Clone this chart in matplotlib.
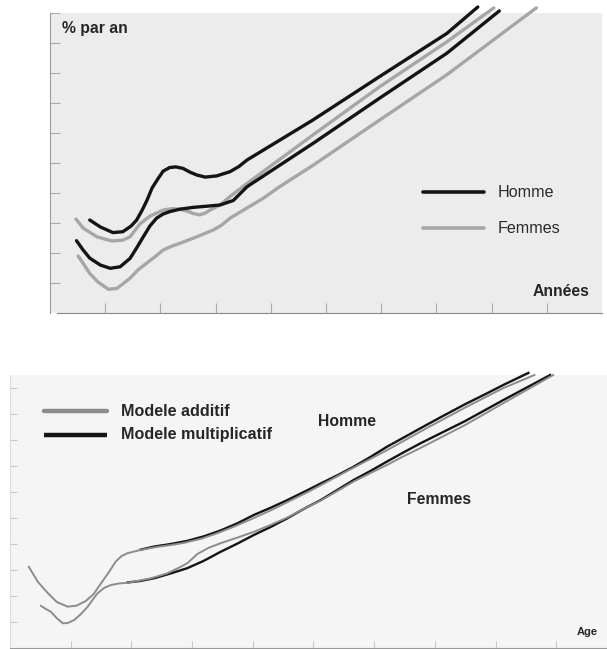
import matplotlib
matplotlib.use("Agg")
import matplotlib.pyplot as plt

plt.rcParams["font.family"] = ["Liberation Sans", "DejaVu Sans"]

W, H = 607, 649

# ---------------- upper panel: mortality growth, % par an ----------------
top_age_ticks = [10, 20, 30, 40, 50, 60, 70, 80, 90]
top_y_ticks = [1, 2, 3, 4, 5, 6, 7, 8, 9, 10]

homme_haut_age = [7.2, 9.1, 11.4, 13.2, 14.7, 15.7, 16.7, 17.6, 18.5, 19.4, 20.5, 21.7,
                  22.8, 24.1, 25.3, 26.6, 28.1, 30.2, 32.6, 34.2, 35.7, 47.6, 59.7, 71.9, 77.5]
homme_haut_val = [3.10, 2.87, 2.68, 2.71, 2.90, 3.10, 3.43, 3.77, 4.17, 4.43, 4.73, 4.85,
                  4.87, 4.82, 4.70, 4.60, 4.53, 4.57, 4.71, 4.88, 5.10, 6.43, 7.88, 9.32, 10.20]

femmes_haut_age = [4.7, 6.0, 8.5, 11.2, 13.2, 14.5, 16.3, 18.1, 20.5, 22.1, 23.5, 24.8,
                   25.9, 27.1, 28.1, 29.0, 30.8, 32.6, 35.7, 47.6, 59.7, 71.9, 80.4]
femmes_haut_val = [3.13, 2.83, 2.54, 2.40, 2.43, 2.54, 2.97, 3.23, 3.43, 3.48, 3.46, 3.40,
                   3.32, 3.27, 3.33, 3.43, 3.60, 3.88, 4.32, 5.93, 7.54, 9.04, 10.17]

homme_bas_age = [4.8, 6.0, 7.2, 9.1, 10.9, 12.7, 14.5, 15.7, 16.9, 18.1, 19.3, 20.5,
                 21.7, 23.5, 25.9, 29.0, 30.8, 33.2, 35.7, 47.7, 59.7, 71.9, 81.4]
homme_bas_val = [2.41, 2.10, 1.83, 1.60, 1.49, 1.54, 1.82, 2.17, 2.54, 2.90, 3.16, 3.30,
                 3.38, 3.46, 3.52, 3.57, 3.60, 3.75, 4.21, 5.66, 7.16, 8.66, 10.07]

femmes_bas_age = [5.1, 6.2, 7.2, 8.7, 10.6, 12.1, 13.2, 14.5, 15.9, 17.5, 19.0, 20.5,
                  22.1, 23.5, 26.6, 29.6, 31.1, 32.6, 35.6, 38.6, 41.6, 47.7, 59.7, 71.8, 88.1]
femmes_bas_val = [1.90, 1.60, 1.32, 1.03, 0.79, 0.82, 0.97, 1.16, 1.43, 1.66, 1.87, 2.10,
                  2.23, 2.32, 2.54, 2.77, 2.93, 3.16, 3.49, 3.82, 4.21, 4.93, 6.43, 7.93, 10.17]

# ---------------- lower panel: additive vs multiplicative model ----------------
low_age_ticks = [10, 20, 30, 40, 50, 60, 70, 80, 90]
low_y_ticks = [1, 2, 3, 4, 5, 6, 7, 8, 9, 10]

homme_add_age = [3.1, 4.6, 6.2, 7.7, 9.5, 11.0, 12.5, 13.8, 15.0, 16.3, 17.4, 18.4, 19.4,
                 21.5, 24.0, 26.5, 28.6, 31.6, 34.2, 36.7, 39.8, 43.1, 49.5, 55.9, 62.2,
                 68.6, 75.0, 81.3, 86.4]
homme_add_val = [3.12, 2.54, 2.12, 1.77, 1.59, 1.63, 1.81, 2.08, 2.49, 2.92, 3.32, 3.54, 3.65,
                 3.77, 3.88, 3.96, 4.04, 4.21, 4.42, 4.65, 4.96, 5.31, 6.05, 6.85, 7.62,
                 8.45, 9.25, 10.00, 10.50]

homme_mult_age = [21.5, 23.7, 26.5, 29.2, 32.0, 34.7, 37.5, 40.2, 43.0, 45.7, 48.5,
                  51.2, 54.0, 56.6, 59.4, 62.1, 64.9, 67.6, 71.3, 75.0, 78.2, 81.3, 85.4]
homme_mult_val = [3.78, 3.90, 4.00, 4.12, 4.30, 4.52, 4.80, 5.12, 5.40, 5.69, 6.01,
                  6.33, 6.65, 6.97, 7.35, 7.74, 8.10, 8.45, 8.92, 9.38, 9.75, 10.12, 10.58]

femmes_add_age = [5.1, 5.9, 6.7, 7.7, 8.7, 9.5, 10.6, 11.7, 12.8, 13.7, 14.4, 15.5, 16.6,
                  17.9, 19.4, 21.5, 23.2, 25.9, 28.1, 29.2, 30.9, 32.7, 34.7, 37.5, 40.2,
                  42.9, 45.7, 48.4, 51.2, 53.8, 56.6, 59.4, 62.1, 64.8, 67.6, 75.0, 81.3, 89.5]
femmes_add_val = [1.62, 1.50, 1.40, 1.15, 0.95, 0.96, 1.08, 1.31, 1.59, 1.88, 2.10, 2.31, 2.42,
                  2.48, 2.51, 2.60, 2.68, 2.87, 3.12, 3.26, 3.62, 3.85, 4.03, 4.25, 4.47,
                  4.73, 5.02, 5.35, 5.67, 6.02, 6.40, 6.73, 7.04, 7.37, 7.69, 8.58, 9.42, 10.50]

femmes_mult_age = [19.4, 21.5, 23.7, 26.5, 29.2, 31.9, 34.7, 37.5, 40.2, 42.9, 45.7,
                   48.4, 51.2, 53.8, 56.6, 59.4, 62.1, 64.8, 67.6, 75.0, 81.3, 89.0]
femmes_mult_val = [2.52, 2.58, 2.68, 2.87, 3.07, 3.35, 3.70, 4.02, 4.35, 4.65, 4.99,
                   5.35, 5.69, 6.06, 6.46, 6.81, 7.17, 7.52, 7.87, 8.73, 9.54, 10.50]

BLACK = "#141414"
GREY_TOP = "#a6a6a6"
GREY_LOW = "#8c8c8c"


def rect(left, top, right, bottom):
    return [left / W, 1 - bottom / H, (right - left) / W, (bottom - top) / H]


def ftxt(px, py, s, **kw):
    fig.text(px / W, 1 - py / H, s, va="center", **kw)


fig = plt.figure(figsize=(W / 100, H / 100), dpi=100)
fig.patch.set_facecolor("white")

# upper panel
ax1 = fig.add_axes(rect(50, 13, 602, 313))
ax1.set_facecolor("#ececec")
ax1.set_xlim(0, 100)
ax1.set_ylim(0, 10)
for s in ("top", "right"):
    ax1.spines[s].set_visible(False)
ax1.spines["left"].set_color("#9a9a9a")
ax1.spines["bottom"].set_color("#8a8a8a")
ax1.spines["bottom"].set_bounds(1.3, 100)
ax1.set_xticks(top_age_ticks)
ax1.set_yticks(top_y_ticks)
ax1.tick_params(direction="in", length=7, color="#aaaaaa", width=0.8,
                labelbottom=False, labelleft=False)

kw = dict(lw=2.4, solid_capstyle="round", solid_joinstyle="round", clip_on=False)
ax1.plot(femmes_bas_age, femmes_bas_val, color=GREY_TOP, **kw)
ax1.plot(femmes_haut_age, femmes_haut_val, color=GREY_TOP, **kw)
ax1.plot(homme_bas_age, homme_bas_val, color=BLACK, **kw)
ax1.plot(homme_haut_age, homme_haut_val, color=BLACK, **kw)

# lower panel
ax2 = fig.add_axes(rect(10, 375, 607, 648))
ax2.set_facecolor("#f5f5f5")
ax2.set_xlim(0, (607 - 9) / 6.08)
ax2.set_ylim(0, 273 / 26)
for s in ("top", "right"):
    ax2.spines[s].set_visible(False)
ax2.spines["left"].set_color("#dddddd")
ax2.spines["bottom"].set_color("#9a9a9a")
ax2.set_xticks(low_age_ticks)
ax2.set_yticks(low_y_ticks)
ax2.tick_params(direction="in", length=5, color="#c8c8c8", width=0.8,
                labelbottom=False, labelleft=False)

gk = dict(lw=1.4, color=GREY_LOW, solid_joinstyle="round", clip_on=False)
bk = dict(lw=1.7, color=BLACK, solid_joinstyle="round", clip_on=False)
ax2.plot(homme_mult_age, homme_mult_val, **bk)
ax2.plot(femmes_mult_age, femmes_mult_val, **bk)
ax2.plot(homme_add_age, homme_add_val, **gk)
ax2.plot(femmes_add_age, femmes_add_val, **gk)

# legend keys for both panels, drawn on a transparent overlay in pixel units
lg = fig.add_axes([0, 0, 1, 1], facecolor="none", zorder=5)
lg.set_xlim(0, W)
lg.set_ylim(H, 0)
lg.axis("off")
lg.plot([423, 484], [192, 192], color=BLACK, lw=2.6, solid_capstyle="round")
lg.plot([423, 484], [228, 228], color=GREY_TOP, lw=2.6, solid_capstyle="round")
lg.plot([44, 107], [411, 411], color=GREY_LOW, lw=3.2, solid_capstyle="round")
lg.plot([44, 107], [435, 435], color=BLACK, lw=3.2, solid_capstyle="butt")

ftxt(62, 28, "% par an", fontsize=11.3, fontweight="bold", color="#262626")
ftxt(533, 292, "Années", fontsize=11.3, fontweight="bold", color="#262626")
ftxt(498, 192, "Homme", fontsize=11.6, color="#2a2a2a")
ftxt(498, 228, "Femmes", fontsize=11.6, color="#2a2a2a")

ftxt(121, 411, "Modele additif", fontsize=11.6, fontweight="bold", color="#262626")
ftxt(121, 435, "Modele multiplicatif", fontsize=11.6, fontweight="bold", color="#262626")
ftxt(318, 422, "Homme", fontsize=11.3, fontweight="bold", color="#262626")
ftxt(407, 500, "Femmes", fontsize=11.3, fontweight="bold", color="#262626")
ftxt(577, 632, "Age", fontsize=8, fontweight="bold", color="#262626")

fig.savefig("out.png", dpi=100, facecolor="white")
